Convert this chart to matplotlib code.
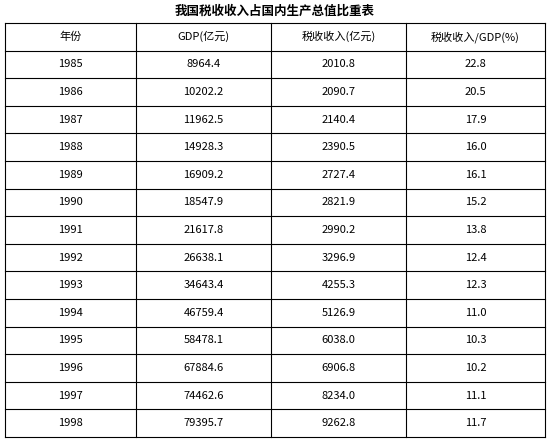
import matplotlib
matplotlib.use("Agg")
import matplotlib.pyplot as plt

plt.rcParams["font.family"] = ["Noto Sans CJK SC", "DejaVu Sans"]

title = "我国税收收入占国内生产总值比重表"
headers = ["年份", "GDP(亿元)", "税收收入(亿元)", "税收收入/GDP(%)"]
years = ["1985", "1986", "1987", "1988", "1989", "1990", "1991",
         "1992", "1993", "1994", "1995", "1996", "1997", "1998"]
gdp = ["8964.4", "10202.2", "11962.5", "14928.3", "16909.2", "18547.9", "21617.8",
       "26638.1", "34643.4", "46759.4", "58478.1", "67884.6", "74462.6", "79395.7"]
tax = ["2010.8", "2090.7", "2140.4", "2390.5", "2727.4", "2821.9", "2990.2",
       "3296.9", "4255.3", "5126.9", "6038.0", "6906.8", "8234.0", "9262.8"]
ratio = ["22.8", "20.5", "17.9", "16.0", "16.1", "15.2", "13.8",
         "12.4", "12.3", "11.0", "10.3", "10.2", "11.1", "11.7"]

fig = plt.figure(figsize=(5.5, 4.4), dpi=100)
ax = fig.add_axes([0, 0, 1, 1])
ax.set_xlim(0, 550)
ax.set_ylim(440, 0)
ax.axis("off")

col_x = [5, 136, 271, 406, 545]
top, bottom = 23, 437
rows = [headers] + [list(r) for r in zip(years, gdp, tax, ratio)]
n = len(rows)
rh = (bottom - top) / n

ax.text(275, 11, title, ha="center", va="center", fontsize=9, fontweight="bold")

for i in range(n + 1):
    ax.plot([col_x[0], col_x[-1]], [top + i * rh] * 2, color="black", lw=0.8)
for x in col_x:
    ax.plot([x, x], [top, bottom], color="black", lw=0.8)

for i, row in enumerate(rows):
    yc = top + (i + 0.5) * rh
    for j, val in enumerate(row):
        xc = (col_x[j] + col_x[j + 1]) / 2
        ax.text(xc, yc, val, ha="center", va="center", fontsize=8)

fig.savefig("out.png", dpi=100, facecolor="white")
